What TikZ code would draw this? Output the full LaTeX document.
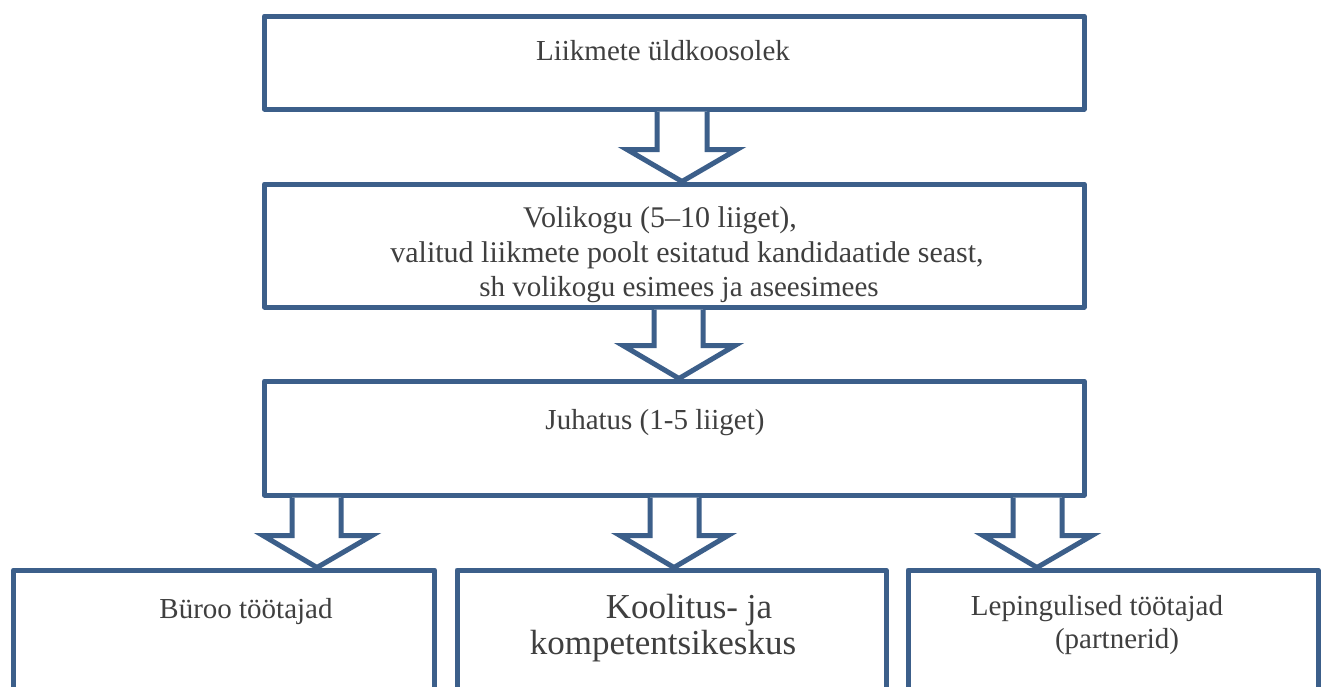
\documentclass[tikz,border=0pt]{standalone}
\usepackage{fontspec}
\setmainfont{Liberation Serif}
\usetikzlibrary{calc}
\definecolor{boxblue}{HTML}{3C5F8A}
\definecolor{txtgray}{HTML}{3F3F3F}
\tikzset{
  orgbox/.style={draw=boxblue, line width=5pt, line join=round, fill=white, inner sep=0pt, rectangle},
  blk/.style={draw=boxblue, line width=5pt, line join=miter, fill=white},
  lbl/.style={text=txtgray, font=\fontsize{29}{35}\selectfont, inner sep=0pt, anchor=base},
  lblwide/.style={text=txtgray, font=\fontsize{30}{36}\selectfont, inner sep=0pt, anchor=base},
  lblbig/.style={text=txtgray, font=\fontsize{35}{42}\selectfont, inner sep=0pt, anchor=base}
}
\begin{document}
\begin{tikzpicture}[x=1pt,y=-1pt]
\useasboundingbox (0,0) rectangle (1323,686);
\fill[white] (0,0) rectangle (1323,686);
\clip (0,0) rectangle (1323,686);
% boxes
\node[orgbox, minimum width=819.5pt, minimum height=93pt] (b1) at (674.25,62.5) {};
\node[orgbox, minimum width=819.5pt, minimum height=123pt] (b2) at (674.25,245.5) {};
\node[orgbox, minimum width=819.5pt, minimum height=114pt] (b3) at (674.25,438) {};
\node[orgbox, minimum width=421pt, minimum height=160pt] (c1) at (224,650) {};
\node[orgbox, minimum width=429pt, minimum height=160pt] (c2) at (671.5,650) {};
\node[orgbox, minimum width=410pt, minimum height=160pt] (c3) at (1113,650) {};
% arrow axes
\coordinate (x1) at (682,0);
\coordinate (x2) at (679,0);
\coordinate (x3) at (317,0);
\coordinate (x4) at (674,0);
\coordinate (x5) at (1037,0);
% block arrows
\draw[blk] ($(b1.south -| x1)+(-25,0)$) -- ++(0,38) -- ++(-30,0) -- (b2.north -| x1)
  -- ($(b1.south -| x1)+(55,38)$) -- ++(-30,0) -- ++(0,-38);
\draw[blk] ($(b2.south -| x2)+(-25,0)$) -- ++(0,36) -- ++(-31,0) -- (b3.north -| x2)
  -- ($(b2.south -| x2)+(56,36)$) -- ++(-32,0) -- ++(0,-36);
\draw[blk] ($(b3.south -| x3)+(-25,0)$) -- ++(0,38) -- ++(-29,0) -- (c1.north -| x3)
  -- ($(b3.south -| x3)+(55,38)$) -- ++(-31,0) -- ++(0,-38);
\draw[blk] ($(b3.south -| x4)+(-24,0)$) -- ++(0,38) -- ++(-30,0) -- (c2.north -| x4)
  -- ($(b3.south -| x4)+(54,38)$) -- ++(-29,0) -- ++(0,-38);
\draw[blk] ($(b3.south -| x5)+(-24,0)$) -- ++(0,38) -- ++(-30,0) -- (c3.north -| x5)
  -- ($(b3.south -| x5)+(55,38)$) -- ++(-30,0) -- ++(0,-38);
% labels
\node[lbl] (t1) at (663,60) {Liikmete üldkoosolek};
\node[lblwide] (t2a) at (660,227) {Volikogu (5–10 liiget),};
\node[lblwide] (t2b) at (687,262) {valitud liikmete poolt esitatud kandidaatide seast,};
\node[lbl] (t2c) at (679,296) {sh volikogu esimees ja aseesimees};
\node[lbl] (t3) at (655,429) {Juhatus (1-5 liiget)};
\node[lbl] (t4) at (246,618) {Büroo töötajad};
\node[lblbig] (t5a) at (689,618) {Koolitus- ja};
\node[lblbig] (t5b) at (663,654) {kompetentsikeskus};
\node[lbl] (t6a) at (1097,615) {Lepingulised töötajad};
\node[lbl] (t6b) at (1117,648) {(partnerid)};
\end{tikzpicture}
\end{document}
